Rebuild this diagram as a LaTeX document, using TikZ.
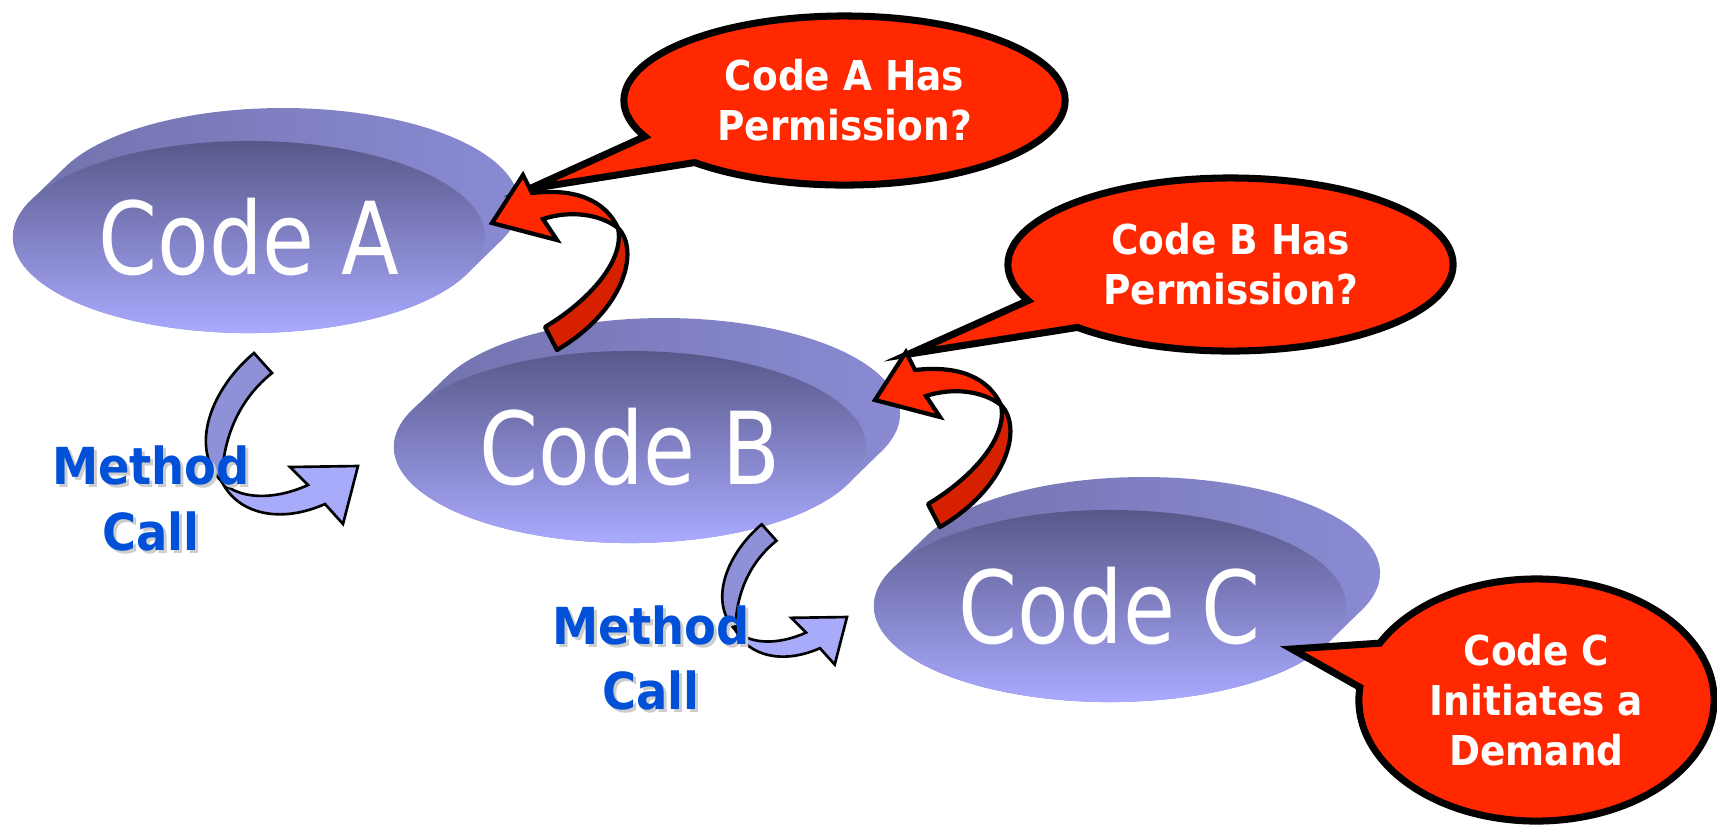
\documentclass[tikz,border=0pt]{standalone}
\usepackage{fontspec}
\usetikzlibrary{shapes.geometric,shapes.callouts}
\newfontfamily\codefont[FakeStretch=0.84]{DejaVu Sans}
\newfontfamily\labfont[FakeStretch=0.91]{DejaVu Sans}
\definecolor{faceTop}{RGB}{88,88,138}
\definecolor{faceBot}{RGB}{170,170,255}
\definecolor{extL}{RGB}{112,112,170}
\definecolor{extR}{RGB}{140,140,214}
\definecolor{bubRed}{RGB}{255,40,0}
\definecolor{darkRed}{RGB}{214,32,0}
\definecolor{mcBlue}{RGB}{0,80,216}
\definecolor{mcShadow}{RGB}{205,205,205}
\definecolor{arrDark}{RGB}{142,144,216}
\definecolor{arrLight}{RGB}{168,170,250}
\tikzset{
  discface/.style={ellipse, minimum width=4.72cm, minimum height=1.92cm, inner sep=0pt,
    top color=faceTop, bottom color=faceBot, text=white,
    font=\codefont\fontsize{28.6pt}{34pt}\selectfont},
  discside/.style={left color=extL, right color=extR},
  bubble/.style={ellipse callout, draw=black, fill=bubRed, line width=2pt, text=white,
    align=center, inner sep=0pt,
    font=\labfont\bfseries\fontsize{11.7pt}{14.2pt}\selectfont},
  redback/.style={draw=black, fill=darkRed, line width=1.2pt, line join=round},
  redfront/.style={draw=black, fill=bubRed, line width=1.2pt},
  bluedark/.style={draw=black, fill=arrDark, line width=0.75pt},
  bluelight/.style={draw=black, fill=arrLight, line width=0.75pt},
  mclabel/.style={text=mcBlue, align=center, inner sep=0pt,
    font=\labfont\bfseries\fontsize{14.5pt}{18.5pt}\selectfont},
  mcshadow/.style={mclabel, text=mcShadow},
}
\newcommand\drawdisc[2]{%
  \path[discside] (#1+218.6,#2+36.2)
    arc[start angle=22.14, end angle=202.14, x radius=236, y radius=96]
    -- ++(34,-33)
    arc[start angle=202.14, end angle=382.14, x radius=236, y radius=96] -- cycle;}
\newcommand\bluearrow{%
  \draw[bluedark] (254,353) .. controls (212,388) and (188,447) .. (222,482)
    .. controls (222,450) and (232,405) .. (272,373) -- cycle;
  \draw[bluelight] (222,482) .. controls (238,514) and (280,524) .. (325,504)
    -- (343,524) -- (358,466) -- (290,467) -- (308,485)
    .. controls (275,500) and (240,500) .. (222,482) -- cycle;}
\newcommand\redarrow{%
  \draw[redback] (618,228) .. controls (640,250) and (625,310) .. (557,350)
    -- (545,327) .. controls (590,300) and (625,260) .. (618,228) -- cycle;
  \draw[redfront] (492,223) -- (523,175) -- (532,193)
    .. controls (575,188) and (605,200) .. (618,228)
    .. controls (600,214) and (570,210) .. (543,219) -- (557,240) -- cycle;}
\begin{document}
\begin{tikzpicture}[x=0.01cm,y=-0.01cm]
\useasboundingbox (0,0) rectangle (1717,826);
% discs
\drawdisc{249}{237}
\node[discface] (codeA) at (249,237) {Code A};
\drawdisc{630}{447}
\node[discface] (codeB) at (630,447) {Code B};
\drawdisc{1110}{606}
\node[discface] (codeC) at (1110,606) {Code C};
% method call arrows
\bluearrow
\begin{scope}[shift={(847,617)}, scale=0.82, shift={(-358,-466)}]
\bluearrow
\end{scope}
% callouts
\node[bubble, minimum width=4.41cm, minimum height=1.69cm,
  callout absolute pointer={(529,189)}, callout pointer arc=22]
  (bubA) at (844.5,100.5) {Code A Has\\Permission?};
\node[bubble, minimum width=4.45cm, minimum height=1.73cm,
  callout absolute pointer={(909,354)}, callout pointer arc=22]
  (bubB) at (1230.5,264.5) {Code B Has\\Permission?};
\node[bubble, minimum width=3.55cm, minimum height=2.42cm,
  callout absolute pointer={(1292,649)}, callout pointer arc=22]
  (bubC) at (1536.5,700) {Code C\\Initiates a\\Demand};
% permission check arrows
\redarrow
\begin{scope}[shift={(383,177)}]
\redarrow
\end{scope}
% labels
\node[mcshadow] (mc1s) at (154,501.5) {Method\\Call};
\node[mclabel] (mc1) at (151,498.5) {Method\\Call};
\node[mcshadow] (mc2s) at (654,661) {Method\\Call};
\node[mclabel] (mc2) at (651,658) {Method\\Call};
\end{tikzpicture}
\end{document}
